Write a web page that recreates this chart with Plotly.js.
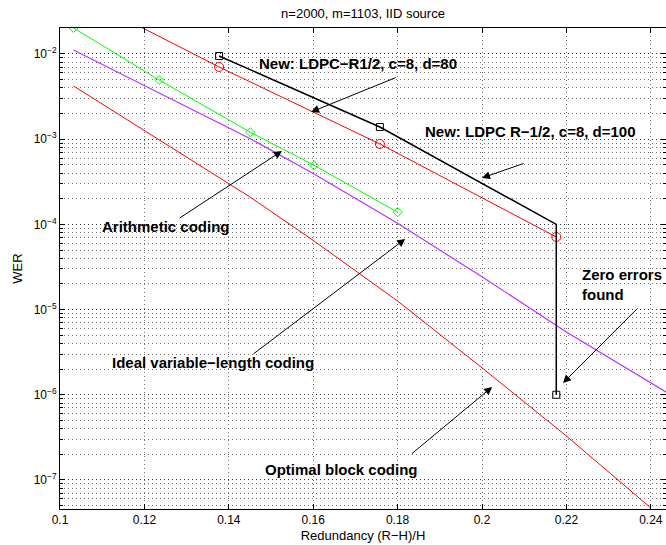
<!DOCTYPE html>
<html>
<head>
<meta charset="utf-8">
<script src="https://cdn.plot.ly/plotly-3.0.1.min.js"></script>
<style>html,body{margin:0;padding:0;background:#fff;}#chart{width:666px;height:545px;}</style>
</head>
<body>
<div id="chart"></div>
<script>
// ---- data ----
const xArith = [0.1032, 0.1235, 0.1451, 0.1602, 0.1800];
const werArith = [2.02e-2, 4.95e-3, 1.205e-3, 4.94e-4, 1.39e-4];

const xIdeal = [0.1032, 0.1235, 0.145, 0.16, 0.18, 0.20, 0.22, 0.245];
const werIdeal = [1.115e-2, 3.51e-3, 1.02e-3, 3.95e-4, 1.03e-4, 2.42e-5, 5.46e-6, 9.8e-7];

const xOpt = [0.1032, 0.1235, 0.145, 0.16, 0.18, 0.20, 0.22, 0.24];
const werOpt = [4.21e-3, 9.88e-4, 2.10e-4, 6.49e-5, 1.26e-5, 2.07e-6, 3.28e-7, 4.69e-8];

const xD80 = [0.1195, 0.1377, 0.1758, 0.2176];
const werD80 = [2.03e-2, 7.04e-3, 8.79e-4, 7.11e-5];

const xD100 = [0.1377, 0.1758, 0.2176, 0.2176];
const werD100 = [9.47e-3, 1.39e-3, 1.0e-4, 1.0e-6];

const xTickVals = [0.1, 0.12, 0.14, 0.16, 0.18, 0.2, 0.22, 0.24];
const xTickText = ['0.1', '0.12', '0.14', '0.16', '0.18', '0.2', '0.22', '0.24'];
const yTickVals = [1e-7, 1e-6, 1e-5, 1e-4, 1e-3, 1e-2];
const yTickText = ['10<sup>\u22127</sup>', '10<sup>\u22126</sup>', '10<sup>\u22125</sup>', '10<sup>\u22124</sup>', '10<sup>\u22123</sup>', '10<sup>\u22122</sup>'];

const FONT = 'Liberation Sans, Arial, Helvetica, sans-serif';
const L = Math.log10;

const traces = [
  {x: xOpt, y: werOpt, mode: 'lines', line: {color: '#ff0000', width: 1}, hoverinfo: 'skip'},
  {x: xIdeal, y: werIdeal, mode: 'lines', line: {color: '#bb33ff', width: 1.2}, hoverinfo: 'skip'},
  {x: xArith, y: werArith, mode: 'lines+markers', line: {color: '#00ff00', width: 1},
   marker: {symbol: 'diamond-open', size: 7, color: '#00ff00', line: {width: 1, color: '#00ff00'}}},
  {x: xD80, y: werD80, mode: 'lines', line: {color: '#ff0000', width: 1}},
  {x: xD80.slice(1), y: werD80.slice(1), mode: 'markers',
   marker: {symbol: 'circle-open', size: 9, color: '#ff0000', line: {width: 1, color: '#ff0000'}}},
  {x: xD100, y: werD100, mode: 'lines', line: {color: '#000000', width: 1.5}},
  {x: [xD100[0], xD100[1], xD100[3]], y: [werD100[0], werD100[1], werD100[3]], mode: 'markers',
   marker: {symbol: 'square-open', size: 7, color: '#000000', line: {width: 1, color: '#000000'}}}
];

function label(text, x, w) {
  return {text: text, x: x, y: L(w), xref: 'x', yref: 'y', showarrow: false,
          xanchor: 'left', yanchor: 'middle', align: 'left',
          font: {family: FONT, size: 15, color: '#000', weight: 'bold'}};
}
function arrow(hx, hw, tx, tw) {
  return {text: '', x: hx, y: L(hw), ax: tx, ay: L(tw), xref: 'x', yref: 'y', axref: 'x', ayref: 'y',
          showarrow: true, arrowhead: 2, arrowsize: 1.6, arrowwidth: 1, arrowcolor: '#000', standoff: 0, startstandoff: 0};
}

const gridStyle = {showgrid: true, gridcolor: 'rgba(0,0,0,0.55)', gridwidth: 1, griddash: '1px,3px'};

const layout = {
  width: 666, height: 545,
  margin: {l: 60, r: 0, t: 28, b: 36},
  paper_bgcolor: '#fff', plot_bgcolor: '#fff',
  showlegend: false,
  font: {family: FONT, size: 12, color: '#000'},
  title: {text: 'n=2000, m=1103, IID source', font: {family: FONT, size: 13, color: '#000'},
          xref: 'paper', x: 0.5, xanchor: 'center', yref: 'container', y: 0.975, yanchor: 'middle'},
  xaxis: Object.assign({
    range: [0.1, 0.2436], tickvals: xTickVals, ticktext: xTickText,
    ticks: 'inside', ticklen: 5, tickcolor: '#000', mirror: 'allticks',
    showline: true, linecolor: '#000', linewidth: 1, zeroline: false,
    tickfont: {family: FONT, size: 12, color: '#000'},
    title: {text: 'Redundancy (R\u2212H)/H', font: {family: FONT, size: 13, color: '#000'}, standoff: 4}
  }, gridStyle),
  yaxis: Object.assign({
    type: 'log', range: [-7.341, -1.695], tickvals: yTickVals, ticktext: yTickText,
    ticks: 'inside', ticklen: 5, tickcolor: '#000', mirror: 'allticks',
    showline: true, linecolor: '#000', linewidth: 1, zeroline: false,
    tickfont: {family: FONT, size: 12, color: '#000'},
    minor: {dtick: 'D1', ticks: 'inside', ticklen: 3, tickcolor: '#000', showgrid: true,
            gridcolor: 'rgba(0,0,0,0.55)', gridwidth: 1, griddash: '1px,3px'},
    title: {text: 'WER', font: {family: FONT, size: 13, color: '#000'}, standoff: 8}
  }, gridStyle),
  annotations: [
    label('New: LDPC\u2212R1/2, c=8, d=80', 0.1467, 10 ** -2.106),
    arrow(0.1595, 10 ** -2.681, 0.1799, 10 ** -2.27),
    label('New: LDPC R\u22121/2, c=8, d=100', 0.186, 10 ** -2.904),
    arrow(0.2000, 10 ** -3.455, 0.2102, 10 ** -3.279),
    label('Arithmetic coding', 0.1095, 10 ** -4.03),
    arrow(0.1526, 10 ** -3.138, 0.128, 10 ** -3.937),
    label('Ideal variable\u2212length coding', 0.1119, 10 ** -5.627),
    arrow(0.1818, 10 ** -4.171, 0.1455, 10 ** -5.533),
    label('Optimal block coding', 0.1481, 10 ** -6.883),
    arrow(0.2024, 10 ** -5.908, 0.183, 10 ** -6.707),
    label('Zero errors<br>found', 0.2233, 10 ** -4.70),
    arrow(0.2192, 10 ** -5.862, 0.2372, 10 ** -4.969)
  ]
};

Plotly.newPlot('chart', traces, layout, {staticPlot: true, displayModeBar: false});
</script>
</body>
</html>
